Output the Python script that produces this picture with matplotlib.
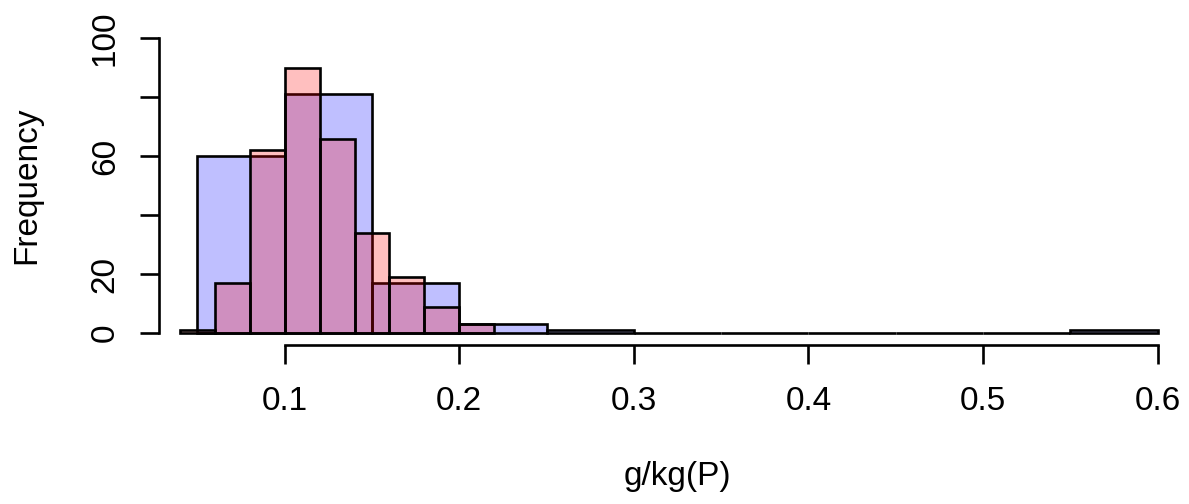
import numpy as np
import matplotlib
matplotlib.use("Agg")
import matplotlib.pyplot as plt

# blue histogram (drawn first), bins of 0.05
blue_edges = [0.05, 0.10, 0.15, 0.20, 0.25, 0.30, 0.35, 0.40, 0.45, 0.50, 0.55, 0.60]
blue_counts = [60, 81, 17, 3, 1, 0, 0, 0, 0, 0, 1]

# red histogram (drawn on top), bins of 0.02
red_edges = [0.04, 0.06, 0.08, 0.10, 0.12, 0.14, 0.16, 0.18, 0.20, 0.22]
red_counts = [1, 17, 62, 90, 66, 34, 19, 9, 3]

x_ticks = [0.1, 0.2, 0.3, 0.4, 0.5, 0.6]
x_ticklabels = ["0.1", "0.2", "0.3", "0.4", "0.5", "0.6"]
y_ticks = [0, 20, 40, 60, 80, 100]
y_ticklabels = ["0", "20", "", "60", "", "100"]

plt.rcParams["font.family"] = ["Liberation Sans", "DejaVu Sans"]

W, H = 1189, 504
fig = plt.figure(figsize=(W / 100, H / 100), dpi=100)
ax = fig.add_axes([159 / W, 1 - 345 / H, (1196 - 159) / W, (345 - 26.5) / H])


def draw_hist(edges, counts, color):
    edges = np.asarray(edges)
    ax.bar(edges[:-1], counts, width=np.diff(edges), align="edge",
           facecolor=color, edgecolor="black", linewidth=1.9)


draw_hist(blue_edges, blue_counts, (0, 0, 1, 0.25))
draw_hist(red_edges, red_counts, (1, 0, 0, 0.25))

ax.set_xlim(0.028, 0.622)
ax.set_ylim(-4, 104)

for side in ("top", "right"):
    ax.spines[side].set_visible(False)
ax.spines["left"].set_bounds(0, 100)
ax.spines["bottom"].set_bounds(0.1, 0.6)
for side in ("left", "bottom"):
    ax.spines[side].set_linewidth(1.9)

ax.set_xticks(x_ticks, x_ticklabels)
ax.set_yticks(y_ticks, y_ticklabels)
ax.tick_params(axis="both", length=13.5, width=1.9, labelsize=24)
ax.tick_params(axis="x", pad=16)
ax.tick_params(axis="y", pad=14)
for lbl in ax.get_yticklabels():
    lbl.set_rotation(90)
    lbl.set_va("center")

ax.set_xlabel("g/kg(P)", fontsize=24, labelpad=32)
ax.set_ylabel("Frequency", fontsize=24, labelpad=34)

fig.savefig("out.png", dpi=100)
